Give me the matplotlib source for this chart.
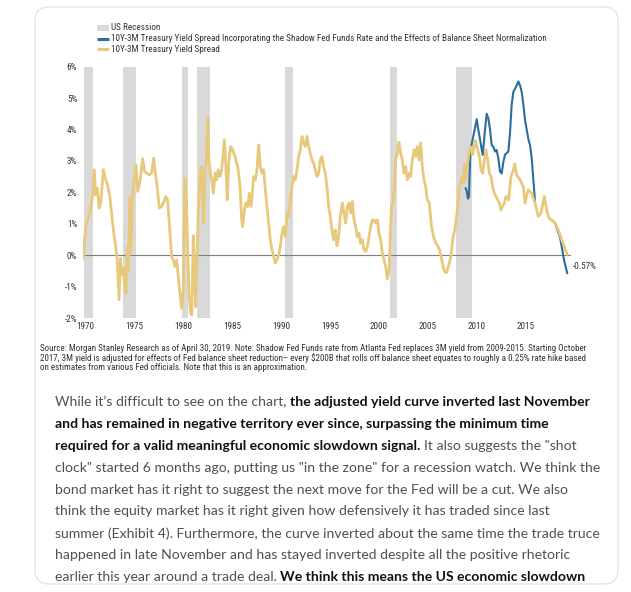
import matplotlib
matplotlib.use("Agg")
import matplotlib.pyplot as plt
from matplotlib import font_manager
from matplotlib.patches import FancyBboxPatch, Rectangle
from matplotlib.transforms import Bbox
import numpy as np

# ---------------- data ----------------
spread_dates = [1969.83, 1969.93, 1970.10, 1970.34, 1970.58, 1970.78, 1970.95, 1971.09, 1971.26, 1971.46,
                1971.63, 1971.87, 1972.07, 1972.31, 1972.55, 1972.76, 1972.96, 1973.16, 1973.30, 1973.47,
                1973.61, 1973.74, 1973.91, 1974.05, 1974.18, 1974.32, 1974.42, 1974.59, 1974.69, 1974.83,
                1975.00, 1975.20, 1975.37, 1975.61, 1975.88, 1976.09, 1976.29, 1976.56, 1976.80, 1977.00,
                1977.21, 1977.38, 1977.59, 1977.82, 1978.06, 1978.23, 1978.43, 1978.67, 1978.84, 1979.00,
                1979.18, 1979.35, 1979.52, 1979.69, 1979.86, 1980.03, 1980.20, 1980.34, 1980.48, 1980.61,
                1980.78, 1980.90, 1981.05, 1981.15, 1981.29, 1981.43, 1981.56, 1981.70, 1981.84, 1981.97,
                1982.11, 1982.24, 1982.38, 1982.52, 1982.65, 1982.79, 1982.93, 1983.10, 1983.27, 1983.44,
                1983.60, 1983.78, 1983.95, 1984.22, 1984.39, 1984.52, 1984.69, 1984.87, 1985.07, 1985.31,
                1985.48, 1985.64, 1985.82, 1985.99, 1986.09, 1986.26, 1986.43, 1986.60, 1986.77, 1986.94,
                1987.07, 1987.21, 1987.38, 1987.55, 1987.72, 1987.89, 1988.06, 1988.23, 1988.40, 1988.57,
                1988.74, 1988.91, 1989.08, 1989.25, 1989.42, 1989.59, 1989.76, 1989.93, 1990.10, 1990.27,
                1990.44, 1990.61, 1990.78, 1990.95, 1991.12, 1991.29, 1991.46, 1991.63, 1991.80, 1991.97,
                1992.14, 1992.31, 1992.48, 1992.65, 1992.82, 1992.99, 1993.16, 1993.33, 1993.50, 1993.67,
                1993.84, 1994.01, 1994.18, 1994.35, 1994.52, 1994.69, 1994.86, 1995.03, 1995.20, 1995.37,
                1995.54, 1995.71, 1995.88, 1996.05, 1996.26, 1996.43, 1996.60, 1996.77, 1996.94, 1997.11,
                1997.28, 1997.45, 1997.62, 1997.79, 1997.96, 1998.13, 1998.30, 1998.47, 1998.64, 1998.81,
                1998.98, 1999.15, 1999.32, 1999.49, 1999.66, 1999.83, 2000.00, 2000.17, 2000.34, 2000.51,
                2000.68, 2000.85, 2001.02, 2001.12, 2001.26, 2001.43, 2001.56, 2001.70, 2001.87, 2002.04,
                2002.21, 2002.38, 2002.55, 2002.72, 2002.89, 2003.06, 2003.23, 2003.40, 2003.57, 2003.74,
                2003.91, 2004.08, 2004.25, 2004.42, 2004.59, 2004.76, 2004.93, 2005.13, 2005.37, 2005.60,
                2005.82, 2006.16, 2006.33, 2006.56, 2006.75, 2006.90, 2007.18, 2007.35, 2007.52, 2007.79,
                2008.03, 2008.20, 2008.45, 2008.60, 2008.75, 2008.85, 2009.00, 2009.20, 2009.35, 2009.55,
                2009.85, 2010.07, 2010.24, 2010.41, 2010.58, 2010.75, 2010.92, 2011.09, 2011.26, 2011.43,
                2011.60, 2011.77, 2011.94, 2012.11, 2012.28, 2012.45, 2012.62, 2012.79, 2012.96, 2013.23,
                2013.47, 2013.71, 2013.85, 2014.05, 2014.39, 2014.73, 2014.90, 2015.07, 2015.24, 2015.58,
                2015.92, 2016.26, 2016.53, 2016.87, 2017.11, 2017.35, 2017.62, 2017.96, 2018.30, 2018.64,
                2018.91, 2019.20]
spread_values = [-0.10, 0.43, 0.97, 1.18, 1.50, 1.92, 2.72, 1.92, 2.13, 1.50,
                 1.71, 2.72, 2.45, 2.24, 1.82, 1.18, 0.65, 0.22, -0.20, -1.42,
                 -0.10, -0.63, -0.41, -1.05, -1.21, 0.28, -0.52, 1.82, 0.12, 1.82,
                 2.35, 2.88, 2.03, 2.35, 3.07, 2.66, 2.61, 2.56, 2.61, 3.09,
                 2.56, 2.13, 1.50, 1.55, 1.71, 1.87, 1.76, 0.70, -0.04, -0.15,
                 -0.36, -0.15, -0.68, -1.21, -1.69, -1.10, 2.45, 1.76, 0.27, -1.21,
                 -1.85, -1.90, 0.62, -0.15, -1.64, -0.15, 1.44, 2.29, 2.82, 2.18,
                 1.02, 2.72, 3.03, 4.38, 3.03, 2.61, 2.40, 1.97, 2.61, 2.40,
                 2.72, 2.50, 2.72, 3.67, 2.72, 1.76, 3.03, 3.46, 3.35, 3.14,
                 2.93, 2.72, 2.18, 1.12, 0.91, 1.44, 1.66, 1.55, 1.97, 1.55,
                 1.97, 2.50, 2.40, 2.72, 3.51, 2.82, 2.61, 2.72, 2.08, 1.55,
                 1.02, 0.49, 0.17, -0.04, -0.25, -0.15, 0.01, 0.27, 0.70, 0.91,
                 0.59, 1.34, 1.23, 1.76, 2.18, 2.50, 2.40, 2.72, 3.14, 3.35,
                 3.78, 3.57, 3.46, 3.78, 3.46, 3.25, 3.03, 2.93, 2.72, 2.50,
                 2.61, 3.03, 3.14, 2.82, 2.61, 2.18, 1.55, 1.23, 0.80, 0.49,
                 0.80, 0.30, 0.59, 1.23, 1.66, 1.34, 1.02, 1.55, 1.66, 1.34,
                 1.71, 1.12, 0.91, 0.59, 0.70, 0.38, 0.49, 0.17, 0.11, 0.27,
                 0.59, 0.91, 1.12, 1.12, 1.02, 1.12, 0.70, 0.49, 0.06, -0.15,
                 -0.36, -0.76, -0.47, 0.27, 1.55, 1.66, 2.18, 3.03, 3.25, 3.60,
                 3.25, 3.03, 2.61, 2.82, 2.40, 2.61, 2.50, 3.03, 3.35, 3.14,
                 3.46, 3.03, 3.58, 2.82, 2.40, 2.18, 1.76, 1.66, 0.88, 0.55,
                 0.38, 0.20, -0.04, -0.40, -0.55, -0.55, -0.25, 0.00, 0.49, 0.91,
                 1.55, 2.18, 2.50, 2.30, 2.90, 2.40, 2.80, 3.30, 3.45, 3.20,
                 3.65, 3.35, 3.14, 2.72, 2.61, 3.03, 3.35, 3.03, 2.61, 2.50,
                 2.18, 1.97, 1.87, 1.76, 1.66, 1.44, 1.55, 1.66, 1.87, 1.76,
                 2.50, 2.72, 2.90, 2.55, 2.40, 2.18, 1.66, 1.90, 2.08, 1.97,
                 1.66, 1.23, 1.34, 1.87, 1.44, 1.17, 1.12, 1.02, 0.80, 0.49,
                 0.27, 0.03]

shadow_dates = [2008.84, 2008.95, 2009.08, 2009.18, 2009.32, 2009.50, 2009.70, 2009.97, 2010.13, 2010.30,
                2010.58, 2010.82, 2010.99, 2011.16, 2011.33, 2011.50, 2011.67, 2011.84, 2012.00, 2012.17,
                2012.35, 2012.52, 2012.69, 2012.86, 2013.03, 2013.20, 2013.37, 2013.54, 2013.71, 2013.88,
                2014.05, 2014.22, 2014.39, 2014.56, 2014.73, 2014.90, 2015.07, 2015.24, 2015.41, 2015.58,
                2015.75, 2015.92, np.nan, 2017.96, 2018.15, 2018.47, 2018.70, 2018.88, 2019.20]
shadow_values = [2.13, 2.05, 1.80, 1.85, 3.30, 3.60, 3.90, 4.33, 4.00, 3.70,
                 3.19, 4.00, 4.50, 4.35, 4.00, 3.50, 3.45, 3.30, 3.35, 3.10,
                 2.66, 2.60, 2.97, 3.20, 3.25, 3.30, 3.90, 4.80, 5.20, 5.30,
                 5.40, 5.53, 5.40, 5.20, 4.80, 4.30, 4.00, 3.70, 3.50, 3.10,
                 2.40, 1.70, np.nan, 1.02, 0.85, 0.58, 0.17, -0.15, -0.57]

recession_starts = [1969.92, 1973.83, 1979.88, 1981.42, 1990.45, 2001.10, 2007.90]
recession_ends = [1970.83, 1975.17, 1980.52, 1982.80, 1991.18, 2001.85, 2009.45]

x_ticks = [1970, 1975, 1980, 1985, 1990, 1995, 2000, 2005, 2010, 2015]
x_tick_labels = ["1970", "1975", "1980", "1985", "1990", "1995", "2000", "2005", "2010", "2015"]
y_ticks = [-2, -1, 0, 1, 2, 3, 4, 5, 6]
y_tick_labels = ["-2%", "-1%", "0%", "1%", "2%", "3%", "4%", "5%", "6%"]

legend_labels = ["US Recession",
                 "10Y-3M Treasury Yield Spread Incorporating the Shadow Fed Funds Rate and the Effects of Balance Sheet Normalization",
                 "10Y-3M Treasury Yield Spread"]

source_lines = [
    "Source: Morgan Stanley Research as of April 30, 2019. Note: Shadow Fed Funds rate from Atlanta Fed replaces 3M yield from 2009-2015. Starting October",
    "2017, 3M yield is adjusted for effects of Fed balance sheet reduction\u2013 every $200B that rolls off balance sheet equates to roughly a 0.25% rate hike based",
    "on estimates from various Fed officials. Note that this is an approximation.",
]

body_lines = [
    [("While it\u2019s difficult to see on the chart,", False), ("the adjusted yield curve inverted last November", True)],
    [("and has remained in negative territory ever since, surpassing the minimum time", True)],
    [("required for a valid meaningful economic slowdown signal.", True), ("It also suggests the \"shot", False)],
    [("clock\" started 6 months ago, putting us \"in the zone\" for a recession watch. We think the", False)],
    [("bond market has it right to suggest the next move for the Fed will be a cut. We also", False)],
    [("think the equity market has it right given how defensively it has traded since last", False)],
    [("summer (Exhibit 4). Furthermore, the curve inverted about the same time the trade truce", False)],
    [("happened in late November and has stayed inverted despite all the positive rhetoric", False)],
    [("earlier this year around a trade deal.", False), ("We think this means the US economic slowdown", True)],
]

# ---------------- styling ----------------
W, H = 631, 592
YELLOW = "#E8C97C"
BLUE = "#2C6D9C"
GREY_BAND = "#D9D9D9"

names = {f.name for f in font_manager.fontManager.ttflist}
NARROW = next((n for n in ["Liberation Sans Narrow", "Roboto Condensed", "Roboto"] if n in names), "DejaVu Sans")
BODY = next((n for n in ["Lato", "Open Sans", "Noto Sans"] if n in names), "DejaVu Sans")

fig = plt.figure(figsize=(W / 100, H / 100), dpi=100)
fig.patch.set_facecolor("white")
R = fig.canvas.get_renderer()


def fpos(x, y):
    return x / W, 1 - y / H


def fit(t, target):
    w = t.get_window_extent(R).width
    t.set_fontsize(t.get_fontsize() * target / w)
    return t.get_fontsize()


# background card (pixel coordinate axes)
bg = fig.add_axes([0, 0, 1, 1], zorder=-1)
bg.set_xlim(0, W)
bg.set_ylim(H, 0)
bg.axis("off")
bg.add_patch(FancyBboxPatch((35, 7), 583, 577, boxstyle="round,pad=0,rounding_size=14",
                            fc="white", ec="#E1E5E8", lw=1.0))

# legend (manual)
leg_y = [27.5, 38.5, 49.0]
bg.add_patch(Rectangle((97, leg_y[0] - 3), 12, 6, color=GREY_BAND, lw=0))
bg.plot([97, 109], [leg_y[1], leg_y[1]], color=BLUE, lw=2.2, solid_capstyle="butt")
bg.plot([97, 109], [leg_y[2], leg_y[2]], color=YELLOW, lw=2.2, solid_capstyle="butt")
leg_texts = [fig.text(*fpos(111, y), lab, fontsize=6, family=NARROW, color="#333333", va="center", ha="left")
             for y, lab in zip(leg_y, legend_labels)]
fs_leg = fit(leg_texts[1], 435)
for t in leg_texts:
    t.set_fontsize(fs_leg)

# ---------------- chart ----------------
x0_px, x_scale = 85.0, 9.8
xl, xr = 1969.8, 2019.6
ax_left = x0_px + (xl - 1970) * x_scale
ax_right = x0_px + (xr - 1970) * x_scale
ax_top, ax_bot = 66.7, 318.0
ax = fig.add_axes([ax_left / W, 1 - ax_bot / H, (ax_right - ax_left) / W, (ax_bot - ax_top) / H])
ax.patch.set_alpha(0)
ax.set_xlim(xl, xr)
ax.set_ylim(-2, 6)
for s in ax.spines.values():
    s.set_visible(False)

for s, e in zip(recession_starts, recession_ends):
    ax.axvspan(s, e, color=GREY_BAND, lw=0, zorder=0)
ax.axhline(0, color="#7F7F7F", lw=0.8, zorder=1)
ax.plot(shadow_dates, shadow_values, color=BLUE, lw=1.5, zorder=2, solid_joinstyle="round")
ax.plot(spread_dates, spread_values, color=YELLOW, lw=2.0, zorder=3, solid_joinstyle="round")

ax.annotate(f"{shadow_values[-1]:.2f}%", xy=(shadow_dates[-1], shadow_values[-1]),
            xytext=(4, 5), textcoords="offset points", fontsize=fs_leg, family=NARROW,
            color="#333333", va="center", ha="left", annotation_clip=False)

ax.set_xticks(x_ticks)
ax.set_xticklabels(x_tick_labels)
ax.set_yticks(y_ticks)
ax.set_yticklabels(y_tick_labels)
ax.tick_params(axis="both", length=0, labelsize=fs_leg, labelcolor="#333333")
ax.tick_params(axis="x", pad=3.0)
ax.tick_params(axis="y", pad=4.3)
for lab in ax.get_xticklabels() + ax.get_yticklabels():
    lab.set_family(NARROW)

# ---------------- source note ----------------
src_y = [348.5, 358.0, 367.5]
src_texts = [fig.text(*fpos(40, y), s, fontsize=6, family=NARROW, color="#333333", va="center", ha="left")
             for y, s in zip(src_y, source_lines)]
fs_src = fit(src_texts[0], 550)
for t in src_texts:
    t.set_fontsize(fs_src)

# ---------------- body paragraph ----------------
body_x0 = 55.0
body_y0 = 401.7
body_dy = 21.95
clip = Bbox([[0, H - 583], [W, H]])

w_total = 0
for txt, bold in body_lines[0]:
    tt = fig.text(0, 0, txt, fontsize=10, family=BODY, fontweight="bold" if bold else "normal")
    w_total += tt.get_window_extent(R).width
    tt.remove()
sp = fig.text(0, 0, "a a", fontsize=10, family=BODY)
sp2 = fig.text(0, 0, "aa", fontsize=10, family=BODY)
space10 = sp.get_window_extent(R).width - sp2.get_window_extent(R).width
sp.remove()
sp2.remove()
w_total += space10
fs_body = 10 * 535.0 / w_total
space = space10 * fs_body / 10

for i, segs in enumerate(body_lines):
    y = body_y0 + i * body_dy
    x = body_x0
    for k, (txt, bold) in enumerate(segs):
        if k > 0:
            x += space
        t = fig.text(*fpos(x, y), txt, fontsize=fs_body, family=BODY,
                     fontweight="bold" if bold else "normal",
                     color="#111111" if bold else "#505050", va="center", ha="left")
        t.set_clip_box(clip)
        t.set_clip_on(True)
        x += t.get_window_extent(R).width

fig.savefig("out.png", dpi=100, facecolor="white")
